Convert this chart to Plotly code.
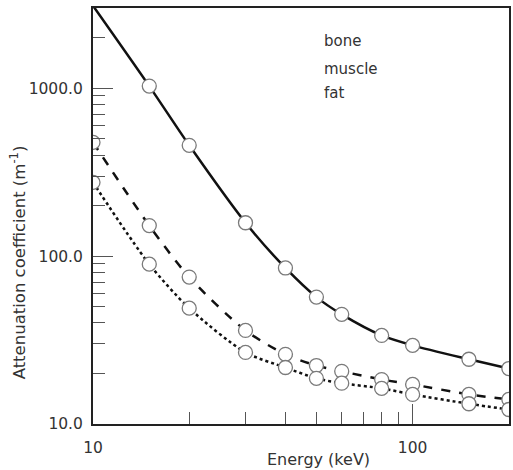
import plotly.graph_objects as go

energy = [10, 15, 20, 30, 40, 50, 60, 80, 100, 150, 200]
bone = [3100, 1030, 457, 158, 85, 57, 45, 33.7, 29.4, 24.3, 21.4]
muscle = [476, 152, 75, 36.1, 26.0, 22.3, 20.6, 18.4, 17.2, 15.0, 14.0]
fat = [275, 89.6, 49.0, 26.7, 21.7, 18.7, 17.5, 16.3, 15.0, 13.2, 12.2]
names = ["bone", "muscle", "fat"]
dashes = ["solid", "dash", "dot"]
series = [bone, muscle, fat]

FONT = "DejaVu Sans"
fig = go.Figure()
for name, ys, dash in zip(names, series, dashes):
    fig.add_trace(go.Scatter(
        x=energy, y=ys, name=name, mode="lines",
        line=dict(color="#111111", width=2.5, dash=dash, shape="spline", smoothing=0.8),
        showlegend=False, cliponaxis=True,
    ))
for name, ys in zip(names, series):
    sizes = [14] * len(ys)
    if name == "bone":
        sizes[0] = 0
    fig.add_trace(go.Scatter(
        x=energy, y=ys, name=name, mode="markers",
        marker=dict(size=sizes, color="#ffffff", opacity=1,
                    line=dict(color="#7a7a7a", width=1.3)),
        showlegend=False, cliponaxis=True,
    ))

xminor = [20, 30, 40, 50, 60, 70, 80, 90]
yminor = [20, 30, 40, 50, 60, 70, 80, 90, 200, 300, 400, 500, 600, 700, 800, 900, 2000]

fig.update_layout(
    width=513, height=470,
    margin=dict(l=93, r=2, t=8, b=46),
    paper_bgcolor="white", plot_bgcolor="white",
    font=dict(family=FONT, size=15, color="#333333"),
    xaxis=dict(
        type="log", range=[1, 2.3015],
        tickvals=[10, 100], ticktext=["10", "100"],
        ticks="inside", ticklen=20, tickwidth=1, tickcolor="#555555",
        minor=dict(tickvals=xminor, ticks="inside", ticklen=12, tickwidth=1, tickcolor="#555555", showgrid=False),
        showline=True, linecolor="#222222", linewidth=2, mirror=True,
        showgrid=False, zeroline=False, ticklabelstandoff=8,
        tickfont=dict(family=FONT, size=15.5, color="#333333"),
    ),
    yaxis=dict(
        type="log", range=[1, 3.478],
        tickvals=[10, 100, 1000], ticktext=["10.0", "100.0", "1000.0"],
        ticks="inside", ticklen=20, tickwidth=1, tickcolor="#555555",
        minor=dict(tickvals=yminor, ticks="inside", ticklen=12, tickwidth=1, tickcolor="#555555", showgrid=False),
        showline=True, linecolor="#222222", linewidth=2, mirror=True,
        showgrid=False, zeroline=False, ticklabelstandoff=5,
        tickfont=dict(family=FONT, size=15.5, color="#333333"),
    ),
)

legend_y = [41, 69, 93]
for name, py in zip(names, legend_y):
    fig.add_annotation(text=name, xref="paper", yref="paper",
                       x=(323 - 93) / 418, y=1 - (py - 8) / 416,
                       xanchor="left", yanchor="middle", showarrow=False,
                       font=dict(family=FONT, size=15, color="#333333"))

fig.add_annotation(text="Energy (keV)", xref="paper", yref="paper",
                   x=(320 - 93) / 418, y=1 - (459 - 8) / 416,
                   xanchor="center", yanchor="middle", showarrow=False,
                   font=dict(family=FONT, size=16, color="#333333"))
fig.add_annotation(text="Attenuation coefficient (m<sup>-1</sup>)", xref="paper", yref="paper",
                   x=(18 - 93) / 418, y=1 - (262 - 8) / 416, textangle=-90,
                   xanchor="center", yanchor="middle", showarrow=False,
                   font=dict(family=FONT, size=16.5, color="#333333"))

fig.write_html("out.html", config={"displayModeBar": False},
               post_script="document.body.style.margin='0px';document.body.style.overflow='hidden';")
